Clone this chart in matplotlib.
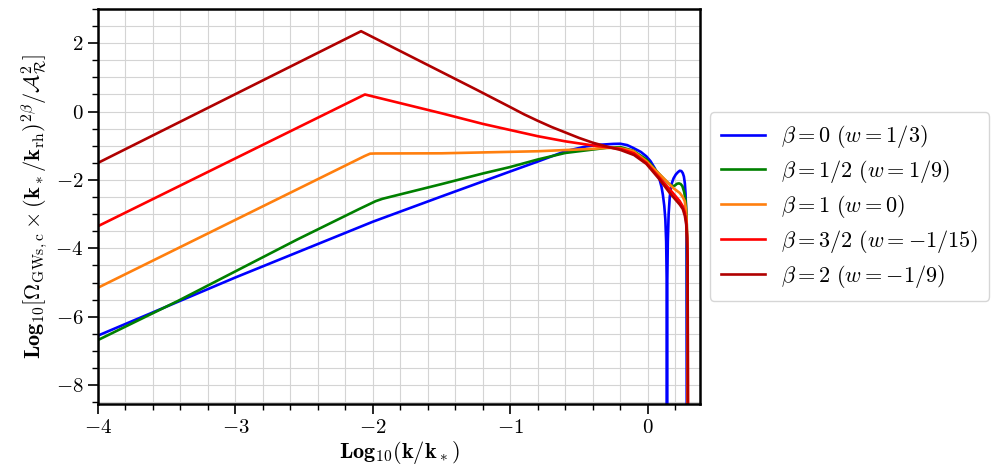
import matplotlib
matplotlib.use('Agg')
import matplotlib.pyplot as plt
from matplotlib.ticker import MultipleLocator, FuncFormatter

plt.rcParams['mathtext.fontset'] = 'cm'
plt.rcParams['font.family'] = 'serif'
plt.rcParams['font.serif'] = ['cmr10', 'DejaVu Serif']
plt.rcParams['axes.formatter.use_mathtext'] = True

# Data (log10 k/k*, log10 Omega)
x_b0 = [-4.0, -3.0, -2.0, -1.5, -1.0, -0.8, -0.6, -0.45, -0.35, -0.25, -0.2, -0.15, -0.107,
        -0.05, -0.01, 0.02, 0.05, 0.07, 0.087, 0.1, 0.11, 0.12, 0.128, 0.134, 0.138, 0.14,
        0.142, 0.146, 0.152, 0.16, 0.172, 0.188, 0.204, 0.22, 0.233, 0.245, 0.255, 0.263,
        0.27, 0.275, 0.279, 0.282, 0.284]
y_b0 = [-6.55, -4.85, -3.22, -2.48, -1.75, -1.46, -1.16, -1.02, -0.97, -0.945, -0.94, -0.98, -1.06,
        -1.18, -1.31, -1.45, -1.65, -1.82, -2.0, -2.2, -2.43, -2.75, -3.15, -3.8, -5.0, -10.0,
        -5.0, -3.8, -3.0, -2.5, -2.13, -1.95, -1.84, -1.77, -1.73, -1.74, -1.8, -1.9,
        -2.1, -2.4, -2.9, -3.8, -10.0]

x_b05 = [-4.0, -3.42, -2.55, -2.1, -1.98, -1.93, -1.88, -1.82, -1.5, -1.2, -1.0, -0.8, -0.6,
         -0.4, -0.3, -0.2, -0.107, -0.01, 0.075, 0.12, 0.148, 0.17, 0.184, 0.198, 0.213, 0.228,
         0.24, 0.252, 0.265, 0.276, 0.282, 0.286, 0.289]
y_b05 = [-6.68, -5.54, -3.74, -2.85, -2.62, -2.55, -2.5, -2.44, -2.12, -1.81, -1.62, -1.40, -1.21,
         -1.11, -1.06, -1.04, -1.14, -1.40, -1.79, -1.98, -2.09, -2.16, -2.18, -2.16, -2.11, -2.1,
         -2.12, -2.18, -2.35, -2.62, -3.0, -3.7, -10.0]

x_b1 = [-4.0, -2.06, -2.02, -1.98, -1.5, -0.8, -0.4, -0.3, -0.2, -0.107, -0.01, 0.087, 0.14,
        0.184, 0.21, 0.233, 0.255, 0.269, 0.278, 0.284, 0.288, 0.29]
y_b1 = [-5.15, -1.3, -1.23, -1.225, -1.22, -1.16, -1.09, -1.06, -1.07, -1.15, -1.45, -1.84, -2.05,
        -2.23, -2.31, -2.38, -2.5, -2.62, -2.85, -3.3, -4.0, -10.0]

x_b15 = [-4.0, -2.058, -1.5, -1.2, -1.0, -0.8, -0.6, -0.4, -0.3, -0.2, -0.1, -0.01, 0.087,
         0.172, 0.233, 0.255, 0.27, 0.28, 0.286, 0.29, 0.293]
y_b15 = [-3.35, 0.50, -0.05, -0.36, -0.54, -0.72, -0.87, -0.99, -1.04, -1.09, -1.22, -1.50, -1.94,
         -2.33, -2.62, -2.77, -2.95, -3.2, -3.6, -4.3, -10.0]

x_b2 = [-4.0, -2.086, -1.246, -1.0, -0.9, -0.8, -0.7, -0.6, -0.5, -0.4, -0.3, -0.2, -0.1,
        -0.01, 0.087, 0.16, 0.233, 0.255, 0.27, 0.28, 0.286, 0.29, 0.293]
y_b2 = [-1.5, 2.35, 0.64, 0.13, -0.08, -0.27, -0.45, -0.61, -0.77, -0.91, -1.02, -1.12, -1.27,
        -1.53, -1.99, -2.38, -2.72, -2.85, -3.05, -3.3, -3.7, -4.4, -10.0]

labels = [r'$\beta=0\ (w=1/3)$', r'$\beta=1/2\ (w=1/9)$', r'$\beta=1\ (w=0)$',
          r'$\beta=3/2\ (w=-1/15)$', r'$\beta=2\ (w=-1/9)$']
colors = ['#0000ff', '#008000', '#ff7f0e', '#ff0000', '#b00000']
xs = [x_b0, x_b05, x_b1, x_b15, x_b2]
ys = [y_b0, y_b05, y_b1, y_b15, y_b2]

fig = plt.figure(figsize=(9.94, 4.68), dpi=100)
ax = fig.add_axes([0.0986, 0.1368, 0.6056, 0.844])

for x, y, c, lab in zip(xs, ys, colors, labels):
    ax.plot(x, y, color=c, lw=1.9, label=lab)

ax.set_xlim(-4, 0.38)
ax.set_ylim(-8.55, 3.0)
ax.xaxis.set_major_locator(MultipleLocator(1))
ax.xaxis.set_minor_locator(MultipleLocator(0.2))
ax.yaxis.set_major_locator(MultipleLocator(2))
ax.yaxis.set_minor_locator(MultipleLocator(0.5))
fmt = FuncFormatter(lambda v, p: r'$%d$' % round(v))
ax.xaxis.set_major_formatter(fmt)
ax.yaxis.set_major_formatter(fmt)
ax.grid(True, which='both', color='#d4d4d4', lw=0.8)
ax.set_axisbelow(True)
ax.tick_params(which='major', length=7, width=1.2, labelsize=15, direction='out')
ax.tick_params(which='minor', length=4, width=1.0, direction='out')
for s in ax.spines.values():
    s.set_linewidth(1.8)

ax.set_xlabel(r'$\mathbf{Log_{10}(k/k_*)}$', fontsize=16, labelpad=2)
ax.set_ylabel(r'$\mathbf{Log_{10}[\Omega_{\rm GWs,c}\times(k_*/k_{\rm rh})^{2\beta}}/\mathcal{A}_\mathcal{R}^\mathbf{2}]$',
              fontsize=16, labelpad=4)

ax.legend(loc='center left', bbox_to_anchor=(1.005, 0.5), fontsize=16, frameon=True,
          handlelength=2.0, handletextpad=0.7, labelspacing=0.35, borderpad=0.5,
          borderaxespad=0.3, fancybox=True, edgecolor='#cccccc')

fig.savefig('out.png', dpi=100)
